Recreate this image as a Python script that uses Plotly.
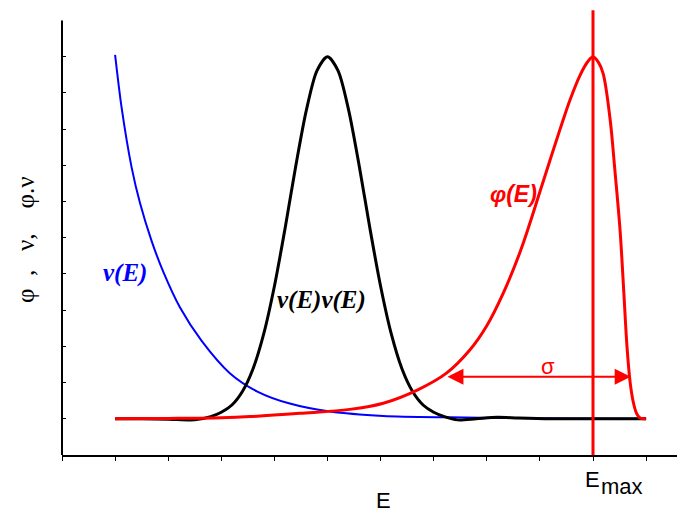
import plotly.graph_objects as go

# ---- data ----
nu_x = [1.0, 1.12, 1.31, 1.47, 1.69, 1.91, 2.22, 2.63, 3.16, 3.67, 4.29, 5.05, 6.05, 7.3, 8.5, 9.5, 11.0]
nu_y = [11.05, 9.62, 7.95, 6.95, 5.90, 5.05, 4.08, 3.15, 2.26, 1.76, 1.42, 1.20, 1.08, 1.04, 1.02, 1.01, 1.0]

prod_x = [1.0, 1.5, 2.0, 2.5, 2.8, 3.0, 3.2, 3.4, 3.6, 3.8, 4.0, 4.2, 4.4, 4.6, 4.8, 5.0,
          5.2, 5.4, 5.6, 5.8, 6.0, 6.2, 6.4, 6.6, 6.8, 7.0, 7.2, 7.45, 7.8, 8.2, 8.6, 9.2, 10.0, 11.0]
prod_y = [1.0, 1.0, 0.99, 0.97, 1.06, 1.18, 1.38, 1.76, 2.39, 3.35, 4.66, 6.25, 7.96, 9.51, 10.61, 11.0,
          10.61, 9.51, 7.96, 6.25, 4.66, 3.35, 2.39, 1.76, 1.38, 1.18, 1.06, 0.97, 1.0, 1.04, 1.02, 1.0, 1.0, 1.0]

phi_x = [1.0, 2.0, 3.0, 3.54, 4.48, 5.42, 6.05, 6.7, 7.24, 7.68, 8.0, 8.31, 8.63, 8.82, 9.0, 9.19, 9.38, 9.57,
         9.76, 9.9, 10.0, 10.1, 10.19, 10.32, 10.41, 10.51, 10.58, 10.64, 10.70, 10.76, 10.82, 10.88, 10.95, 11.0]
phi_y = [1.0, 1.01, 1.03, 1.06, 1.15, 1.26, 1.43, 1.80, 2.26, 2.90, 3.57, 4.47, 5.62, 6.44, 7.27, 8.14, 9.0, 9.82,
         10.5, 10.86, 11.0, 10.85, 10.54, 9.3, 7.9, 6.2, 4.5, 3.0, 2.0, 1.45, 1.15, 1.03, 1.0, 1.0]

e_max = 10.0
sigma_left, sigma_right, sigma_y = 7.23, 10.71, 2.16
x_ticks = list(range(0, 12))
y_ticks = list(range(1, 12))

RED = "#FF0000"
BLUE = "#0000FF"

fig = go.Figure()
fig.add_trace(go.Scatter(x=nu_x, y=nu_y, mode="lines",
                         line=dict(color=BLUE, width=2, shape="spline", smoothing=0.8)))
fig.add_trace(go.Scatter(x=prod_x, y=prod_y, mode="lines",
                         line=dict(color="black", width=3, shape="spline", smoothing=0.8)))
fig.add_trace(go.Scatter(x=phi_x, y=phi_y, mode="lines",
                         line=dict(color=RED, width=3, shape="spline", smoothing=1.0)))

# vertical line at E_max
fig.add_shape(type="line", xref="x", yref="y", x0=e_max, x1=e_max, y0=0, y1=12.28,
              line=dict(color=RED, width=3))
# y axis line (ends below top)
fig.add_shape(type="line", xref="paper", yref="paper", x0=0, x1=0, y0=0, y1=12.0 / 12.29,
              line=dict(color="black", width=2))

# sigma double arrow
fig.add_annotation(x=sigma_right, y=sigma_y, ax=sigma_left, ay=sigma_y, xref="x", yref="y",
                   axref="x", ayref="y", text="", showarrow=True, arrowhead=2, startarrowhead=2,
                   arrowside="end+start", arrowsize=1.6, startarrowsize=1.6, arrowwidth=2, arrowcolor=RED)

ann_common = dict(showarrow=False)
fig.add_annotation(x=9.15, y=2.44, xref="x", yref="y", text="σ",
                   font=dict(family="Liberation Sans", size=22, color=RED), **ann_common)
fig.add_annotation(x=1.19, y=5.03, xref="x", yref="y", text="<b><i>ν(E)</i></b>",
                   font=dict(family="Liberation Serif", size=25, color=BLUE), **ann_common)
fig.add_annotation(x=4.88, y=4.28, xref="x", yref="y", text="<b><i>ν(E)ν(E)</i></b>",
                   font=dict(family="Liberation Serif", size=25, color="black"), **ann_common)
fig.add_annotation(x=8.5, y=7.2, xref="x", yref="y", text="<b><i>φ(E)</i></b>",
                   font=dict(family="Liberation Sans", size=23, color=RED), **ann_common)

# E_max label
fig.add_annotation(x=e_max, y=(455 - 480) / 445, xref="x", yref="paper", text="E",
                   xanchor="center", yanchor="middle", xshift=-1,
                   font=dict(family="Liberation Sans", size=22, color="black"), **ann_common)
fig.add_annotation(x=e_max, y=(455 - 487) / 445, xref="x", yref="paper", text="max",
                   xanchor="left", yanchor="middle", xshift=6,
                   font=dict(family="Liberation Sans", size=22, color="black"), **ann_common)
# axis titles
fig.add_annotation(x=(383 - 62) / 623, y=(455 - 500) / 445, xref="paper", yref="paper", text="E",
                   xanchor="center", yanchor="middle",
                   font=dict(family="Liberation Sans", size=22, color="black"), **ann_common)
NB = "\u00a0"
ylab = "φ" + NB * 2 + "," + NB * 3 + "ν," + NB * 4 + "φ.ν"
fig.add_annotation(x=(26 - 62) / 623, y=(455 - 240) / 445, xref="paper", yref="paper",
                   text=ylab, textangle=-90,
                   xanchor="center", yanchor="middle",
                   font=dict(family="Liberation Serif", size=25, color="black"), **ann_common)

# the page body adds an 8px margin; the figure is sized so the plot area lands
# at the same window pixels as the reference
fig.update_layout(
    width=677, height=509,
    margin=dict(l=54, r=0, t=2, b=62),
    paper_bgcolor="white", plot_bgcolor="white",
    showlegend=False,
    xaxis=dict(range=[0, 623 / 53.1], tickvals=x_ticks, showticklabels=False, ticks="outside",
               ticklen=4, tickwidth=1, tickcolor="black", showline=True, linecolor="black",
               linewidth=2, showgrid=False, zeroline=False, fixedrange=True),
    yaxis=dict(range=[0, 12.29], tickvals=y_ticks, showticklabels=False, ticks="inside",
               ticklen=4, tickwidth=1, tickcolor="black", showline=False,
               showgrid=False, zeroline=False, fixedrange=True),
)

fig.write_html("out.html")
